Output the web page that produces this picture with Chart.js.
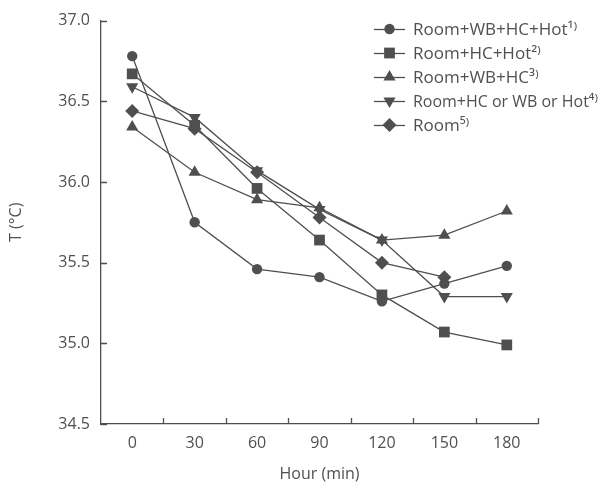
<!DOCTYPE html>
<html>
<head>
<meta charset="utf-8">
<script src="https://cdn.jsdelivr.net/npm/chart.js@4.4.1/dist/chart.umd.min.js"></script>
<style>
  html, body { margin: 0; padding: 0; background: #ffffff; }
  #wrap { width: 601px; height: 487px; position: relative; }
</style>
</head>
<body>
<div id="wrap"><canvas id="c" width="601" height="487"></canvas></div>
<script>
// ---- data ----
const categories = ['0', '30', '60', '90', '120', '150', '180'];
const seriesLabels = [
  'Room+WB+HC+Hot\u00B9\u207E',
  'Room+HC+Hot\u00B2\u207E',
  'Room+WB+HC\u00B3\u207E',
  'Room+HC or WB or Hot\u2074\u207E',
  'Room\u2075\u207E'
];
const roomWbHcHot  = [36.78, 35.75, 35.46, 35.41, 35.26, 35.37, 35.48];
const roomHcHot    = [36.67, 36.35, 35.96, 35.64, 35.30, 35.07, 34.99];
const roomWbHc     = [36.34, 36.06, 35.89, 35.84, 35.64, 35.67, 35.82];
const roomHcOrWbOrHot = [36.59, 36.40, 36.07, 35.83, 35.64, 35.29, 35.29];
const roomOnly     = [36.44, 36.33, 36.06, 35.78, 35.50, 35.41, null];
const yTicks = [34.5, 35.0, 35.5, 36.0, 36.5, 37.0];

// ---- styles ----
const INK = '#4f4f51';
const TEXT = '#505052';
const FONT = "'Open Sans', 'DejaVu Sans', sans-serif";
const styles = [
  { pointStyle: 'circle',   radius: 5.2, rotation: 0 },
  { pointStyle: 'rect',     radius: 7.6, rotation: 0 },
  { pointStyle: 'triangle', radius: 7,   rotation: 0 },
  { pointStyle: 'triangle', radius: 7,   rotation: 180 },
  { pointStyle: 'rectRot',  radius: 7,   rotation: 0 }
];
const seriesData = [roomWbHcHot, roomHcHot, roomWbHc, roomHcOrWbOrHot, roomOnly];

const datasets = seriesData.map((d, i) => ({
  label: seriesLabels[i],
  data: d,
  borderColor: INK,
  backgroundColor: INK,
  borderWidth: 1.3,
  pointStyle: styles[i].pointStyle,
  pointRadius: styles[i].radius,
  pointHoverRadius: styles[i].radius,
  pointRotation: styles[i].rotation,
  pointBorderWidth: 0,
  pointBackgroundColor: INK,
  tension: 0,
  spanGaps: false,
  clip: false
}));

// inward tick marks on both axes
const innerTicks = {
  id: 'innerTicks',
  afterDraw(chart) {
    const ctx = chart.ctx;
    const xs = chart.scales.x, ys = chart.scales.y;
    const area = chart.chartArea;
    ctx.save();
    ctx.strokeStyle = INK;
    ctx.lineWidth = 1.3;
    ctx.beginPath();
    const n = categories.length;
    for (let i = 0; i < n; i++) {
      const c = xs.getPixelForTick(i);
      const next = i < n - 1 ? xs.getPixelForTick(i + 1) : c + (c - xs.getPixelForTick(i - 1));
      const px = Math.round((c + next) / 2) + 0.5;
      ctx.moveTo(px, area.bottom);
      ctx.lineTo(px, area.bottom - 6);
    }
    yTicks.forEach(v => {
      const py = Math.round(ys.getPixelForValue(v)) + 0.5;
      ctx.moveTo(area.left, py);
      ctx.lineTo(area.left + 6, py);
    });
    ctx.stroke();
    ctx.restore();
  }
};

// legend with line + marker
const lineLegend = {
  id: 'lineLegend',
  afterDraw(chart) {
    const ctx = chart.ctx;
    const x0 = 374, x1 = 405, tx = 413, y0 = 29, dy = 24;
    const maxW = chart.width - tx - 3;
    ctx.save();
    chart.data.datasets.forEach((ds, i) => {
      const y = y0 + dy * i;
      ctx.strokeStyle = INK;
      ctx.lineWidth = 1.3;
      ctx.beginPath();
      ctx.moveTo(x0, y + 0.5);
      ctx.lineTo(x1, y + 0.5);
      ctx.stroke();
      ctx.fillStyle = INK;
      Chart.helpers.drawPoint(ctx, {
        pointStyle: ds.pointStyle,
        radius: ds.pointRadius,
        rotation: ds.pointRotation,
        borderWidth: 0
      }, (x0 + x1) / 2, y);
      ctx.fillStyle = TEXT;
      ctx.font = '17px ' + FONT;
      ctx.textBaseline = 'middle';
      ctx.textAlign = 'left';
      ctx.fillText(ds.label, tx, y + 1, maxW);
    });
    ctx.restore();
  }
};

new Chart(document.getElementById('c'), {
  type: 'line',
  data: { labels: categories, datasets },
  plugins: [innerTicks, lineLegend],
  options: {
    responsive: false,
    animation: false,
    devicePixelRatio: 1,
    layout: { padding: { top: 20, right: 63, left: 0, bottom: 0 } },
    plugins: {
      legend: { display: false },
      tooltip: { enabled: false }
    },
    scales: {
      x: {
        type: 'category',
        offset: true,
        grid: { display: true, drawOnChartArea: false, drawTicks: false, offset: true, color: 'rgba(0,0,0,0)' },
        border: { display: true, color: INK, width: 1.3 },
        ticks: { color: TEXT, font: { family: FONT, size: 16 }, padding: 10, maxRotation: 0 },
        title: { display: true, text: 'Hour (min)', color: TEXT, font: { family: FONT, size: 16 }, padding: { top: 4, bottom: 3 } },
        afterFit(scale) { scale.height = 63; }
      },
      y: {
        min: 34.5,
        max: 37.0,
        afterBuildTicks(scale) { scale.ticks = yTicks.map(v => ({ value: v })); },
        grid: { display: true, drawOnChartArea: false, drawTicks: false, color: 'rgba(0,0,0,0)' },
        border: { display: true, color: INK, width: 1.3 },
        ticks: { color: TEXT, font: { family: FONT, size: 16 }, padding: 11, callback: v => Number(v).toFixed(1) },
        title: { display: true, text: 'T (\u00B0C)', color: TEXT, font: { family: FONT, size: 16 }, padding: { top: 7, bottom: 0 } },
        afterFit(scale) { scale.width = 101; }
      }
    }
  }
});
</script>
</body>
</html>
